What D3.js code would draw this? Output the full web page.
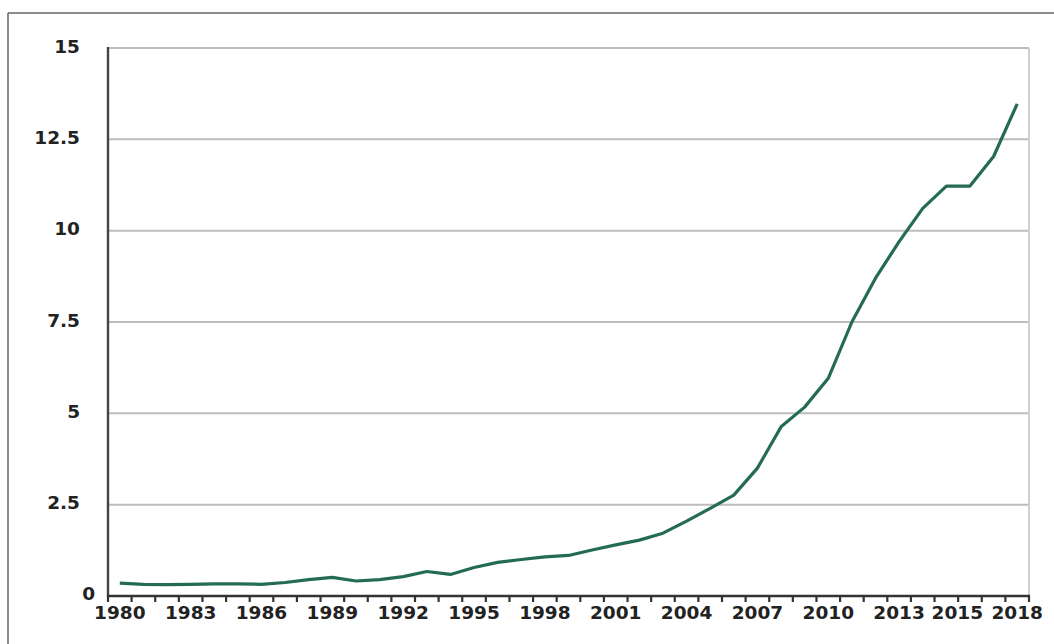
<!DOCTYPE html>
<html>
<head>
<meta charset="utf-8">
<script src="https://cdn.jsdelivr.net/npm/d3@7"></script>
<style>
  html, body { margin: 0; padding: 0; background: #fff; }
  svg { display: block; }
</style>
</head>
<body>
<svg id="chart" width="1054" height="644"></svg>
<script>
const years = d3.range(1980, 2019);
const values = [0.35, 0.32, 0.31, 0.32, 0.33, 0.33, 0.32, 0.37, 0.45, 0.51,
                0.41, 0.45, 0.53, 0.67, 0.59, 0.78, 0.92, 1.00, 1.07, 1.11,
                1.26, 1.40, 1.53, 1.72, 2.05, 2.40, 2.76, 3.50, 4.63, 5.17,
                5.96, 7.50, 8.70, 9.70, 10.61, 11.22, 11.22, 12.03, 13.47];
const yTicks = [0, 2.5, 5, 7.5, 10, 12.5, 15];
const xTickLabels = ["1980", "1983", "1986", "1989", "1992", "1995", "1998",
                     "2001", "2004", "2007", "2010", "2013", "2015", "2018"];

const svg = d3.select("#chart");
const pLeft = 108, pRight = 1029, pTop = 48, pBottom = 596;

// outer frame
svg.append("line").attr("x1", 8).attr("x2", 1054).attr("y1", 13).attr("y2", 13)
  .attr("stroke", "#666").attr("stroke-width", 1.5);
svg.append("line").attr("x1", 8).attr("x2", 8).attr("y1", 13).attr("y2", 644)
  .attr("stroke", "#666").attr("stroke-width", 1.5);

const x = d3.scaleBand().domain(years).range([pLeft, pRight]).padding(0);
const y = d3.scaleLinear().domain([0, 15]).range([pBottom, pTop]);
const cx = d => x(d) + x.bandwidth() / 2;

// gridlines
svg.append("g").selectAll("line").data(yTicks.filter(t => t > 0)).join("line")
  .attr("x1", pLeft).attr("x2", pRight)
  .attr("y1", d => y(d)).attr("y2", d => y(d))
  .attr("stroke", "#bdbdbd").attr("stroke-width", 2);

// right border
svg.append("line").attr("x1", pRight).attr("x2", pRight).attr("y1", pTop).attr("y2", pBottom)
  .attr("stroke", "#d0d0d0").attr("stroke-width", 2);

// line
const line = d3.line().x((d, i) => cx(years[i])).y(d => y(d));
svg.append("path").datum(values)
  .attr("d", line)
  .attr("fill", "none")
  .attr("stroke", "#246b55")
  .attr("stroke-width", 3.2)
  .attr("stroke-linejoin", "round");

// y axis line
svg.append("line").attr("x1", pLeft).attr("x2", pLeft).attr("y1", pTop - 1).attr("y2", pBottom + 1)
  .attr("stroke", "#444").attr("stroke-width", 2.4);
// x axis line
svg.append("line").attr("x1", pLeft - 1).attr("x2", pRight + 1).attr("y1", pBottom).attr("y2", pBottom)
  .attr("stroke", "#333").attr("stroke-width", 2.4);

// x tick marks at category boundaries
const boundaries = years.map(d => x(d)).concat([pRight]);
svg.append("g").selectAll("line").data(boundaries).join("line")
  .attr("x1", d => d).attr("x2", d => d)
  .attr("y1", pBottom).attr("y2", pBottom + 6)
  .attr("stroke", "#333").attr("stroke-width", 2.2);

// y labels
svg.append("g").selectAll("text").data(yTicks).join("text")
  .attr("x", d => d === 0 ? 95 : 80)
  .attr("y", d => y(d) + (d === 0 ? -3 : -2))
  .attr("dy", "0.36em")
  .attr("text-anchor", "end")
  .attr("font-family", "DejaVu Sans, Verdana, sans-serif")
  .attr("font-weight", "bold")
  .attr("font-size", 18.5)
  .attr("fill", "#222")
  .text(d => d);

// x labels
svg.append("g").selectAll("text").data(xTickLabels).join("text")
  .attr("x", d => cx(+d) + (d === "2015" ? 11 : 0))
  .attr("y", 619)
  .attr("text-anchor", "middle")
  .attr("font-family", "DejaVu Sans, Verdana, sans-serif")
  .attr("font-weight", "bold")
  .attr("font-size", 18.5)
  .attr("fill", "#222")
  .text(d => d);
</script>
</body>
</html>
